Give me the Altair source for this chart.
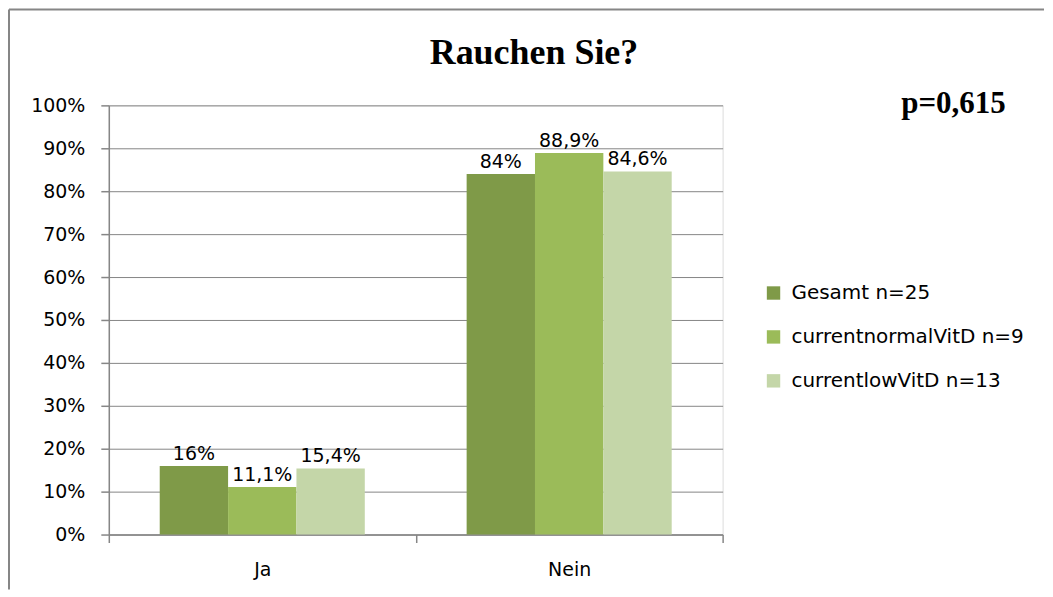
import altair as alt
import pandas as pd

categories = ["Ja", "Nein"]
series = ["Gesamt n=25", "currentnormalVitD n=9", "currentlowVitD n=13"]
gesamt = [0.16, 0.84]
normal_vitd = [0.111, 0.889]
low_vitd = [0.154, 0.846]
colors = ["#7F9A48", "#9BBB59", "#C4D6A8"]
y_ticks = [0, 0.1, 0.2, 0.3, 0.4, 0.5, 0.6, 0.7, 0.8, 0.9, 1.0]
title_text = "Rauchen Sie?"
p_text = "p=0,615"

GRAY = "#868686"
SANS = "DejaVu Sans"
SERIF = "Liberation Serif"


def fmt(v):
    s = f"{v * 100:.1f}".replace(".", ",")
    if s.endswith(",0"):
        s = s[:-2]
    return s + "%"


rows = []
for s_name, vals in zip(series, [gesamt, normal_vitd, low_vitd]):
    for c, v in zip(categories, vals):
        rows.append({"Kategorie": c, "Gruppe": s_name, "Wert": v, "Label": fmt(v)})
df = pd.DataFrame(rows)

x_enc = alt.X(
    "Kategorie:N",
    sort=categories,
    scale=alt.Scale(paddingInner=0, paddingOuter=0),
    axis=alt.Axis(
        title=None, labelAngle=0, tickBand="extent", labelFont=SANS, labelFontSize=19,
        labelColor="black", domainColor=GRAY, domainWidth=1.5, tickColor=GRAY,
        tickWidth=1.5, tickSize=8, labelPadding=18, grid=False,
    ),
)
xoff_enc = alt.XOffset(
    "Gruppe:N", sort=series, scale=alt.Scale(paddingInner=0, paddingOuter=0.745)
)
y_enc = alt.Y(
    "Wert:Q",
    scale=alt.Scale(domain=[0, 1], nice=False),
    axis=alt.Axis(
        title=None, format=".0%", values=y_ticks, labelFont=SANS, labelFontSize=19,
        labelColor="black", domainColor=GRAY, domainWidth=1.5, tickColor=GRAY,
        tickWidth=1.5, tickSize=8, labelPadding=16, gridColor=GRAY, gridWidth=1,
    ),
)
color_enc = alt.Color(
    "Gruppe:N",
    sort=series,
    scale=alt.Scale(domain=series, range=colors),
    legend=alt.Legend(
        title=None, orient="none", legendX=656, legendY=178, symbolType="square",
        symbolSize=180, symbolStrokeWidth=0, labelFont=SANS, labelFontSize=20,
        labelColor="black", rowPadding=24, labelOffset=8, labelLimit=0,
    ),
)

bars = alt.Chart(df).mark_bar().encode(x=x_enc, xOffset=xoff_enc, y=y_enc, color=color_enc)

labels = alt.Chart(df).mark_text(
    dy=-6, baseline="alphabetic", fontSize=19, font=SANS, color="black"
).encode(x=x_enc, xOffset=xoff_enc, y=y_enc, text="Label:N")

title = alt.Chart(pd.DataFrame({"t": [title_text]})).mark_text(
    font=SERIF, fontWeight="bold", fontSize=36, align="center", baseline="alphabetic",
    color="black",
).encode(text="t:N", x=alt.value(426), y=alt.value(-41))

ptext = alt.Chart(pd.DataFrame({"t": [p_text]})).mark_text(
    font=SERIF, fontWeight="bold", fontSize=31, align="left", baseline="alphabetic",
    color="black",
).encode(text="t:N", x=alt.value(794), y=alt.value(8))

dummy = pd.DataFrame({"a": [0]})
border_top = alt.Chart(dummy).mark_rule(color=GRAY, strokeWidth=2).encode(
    x=alt.value(-100), x2=alt.value(937), y=alt.value(-96)
)
border_left = alt.Chart(dummy).mark_rule(color=GRAY, strokeWidth=2).encode(
    x=alt.value(-100), y=alt.value(-96), y2=alt.value(485)
)

chart = (
    alt.layer(bars, labels, title, ptext, border_top, border_left)
    .properties(width=615, height=430, padding=0)
    .configure_view(stroke=None)
    .configure(background="white")
)

chart.save("out.html", embed_options={"renderer": "svg", "actions": False})
